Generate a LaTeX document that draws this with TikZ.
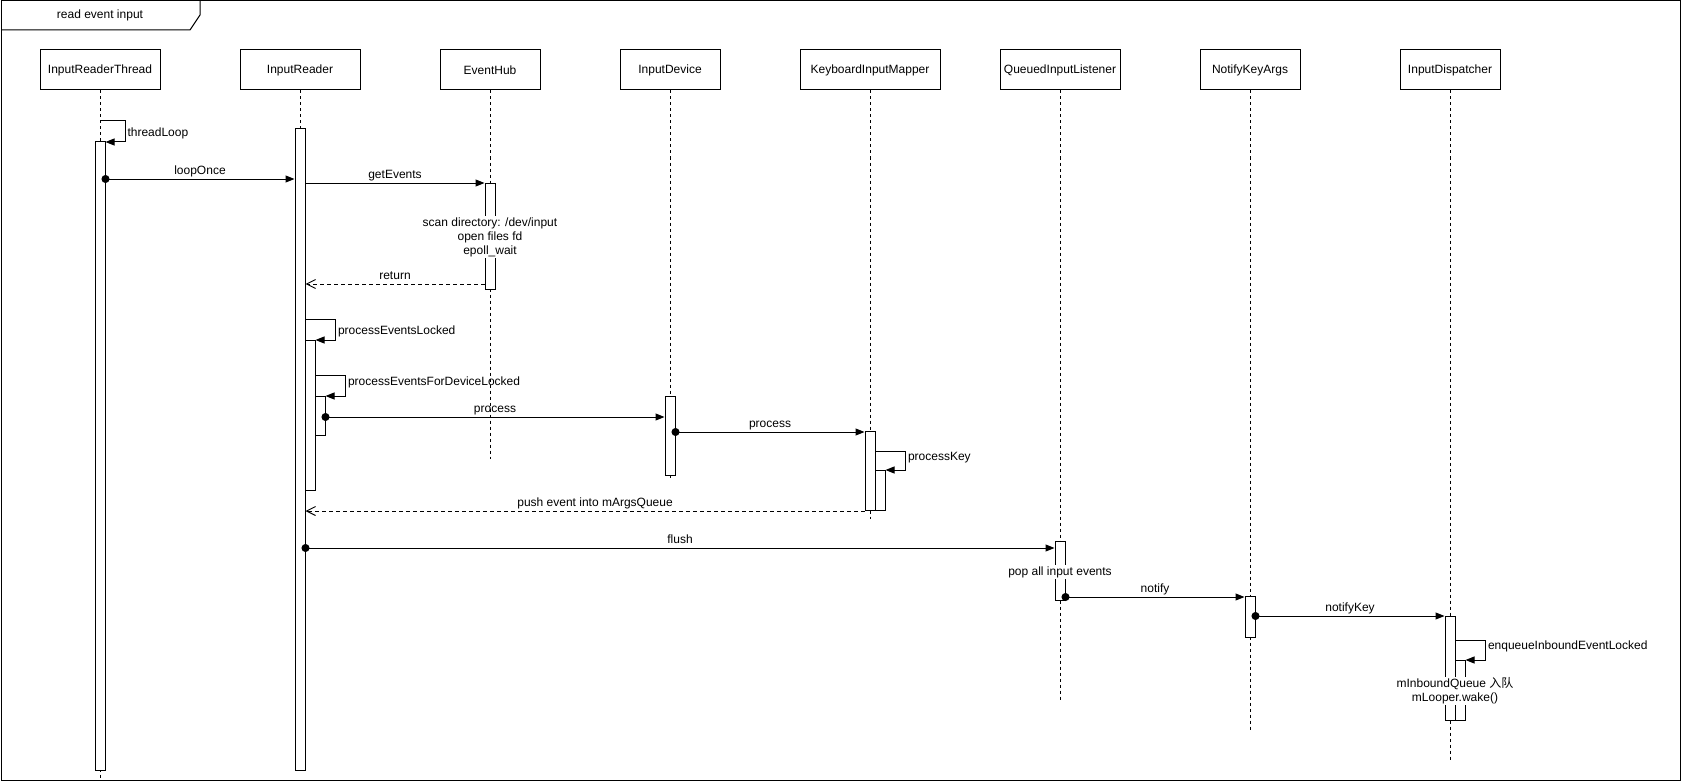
\documentclass[tikz,border=0pt]{standalone}
\usepackage{fontspec}
\setmainfont{Liberation Sans}
\newfontfamily\cjk{Noto Sans CJK SC}
\usetikzlibrary{arrows.meta, positioning}

\begin{document}
\begin{tikzpicture}[
    x=1pt, y=-1pt,
    every node/.style={font=\fontsize{12}{14}\selectfont},
    head/.style={draw, line width=1pt, minimum width=120pt, minimum height=40pt, inner sep=0pt},
    life/.style={line width=1pt, dash pattern=on 3pt off 3pt},
    act/.style={draw, fill=white, line width=1pt, minimum width=10pt, inner sep=0pt},
    call/.style={line width=1pt, -{Triangle[length=9pt, width=7pt]}},
    sync/.style={line width=1pt, {Circle[length=8pt]}-{Triangle[length=9pt, width=7pt]}, shorten <=-4pt},
    ret/.style={line width=1pt, dash pattern=on 4pt off 3pt, -{Straight Barb[length=9pt, width=9pt]}},
    lbl/.style={above, inner sep=1.5pt, text depth=2.5pt},
    selflbl/.style={right, pos=0.17, inner sep=2pt},
    note/.style={align=center, fill=white, inner sep=1pt},
]
\useasboundingbox (0,0) rectangle (1681,781);

% frame
\draw[line width=1pt] (1,1) rectangle (1680,780);
\draw[line width=1pt] (1,30) -- (190,30) -- (200,15) -- (200,1);
\node (title) at (100,15) {read event input};

% lifelines
\node[head] (tThread) at (100,70) {InputReaderThread};
\node[head] (tReader) at (300,70) {InputReader};
\node[head, minimum width=100pt] (tHub) at (490,70) {EventHub};
\node[head, minimum width=100pt] (tDevice) at (670,70) {InputDevice};
\node[head, minimum width=140pt] (tMapper) at (870,70) {KeyboardInputMapper};
\node[head] (tQueued) at (1060,70) {QueuedInputListener};
\node[head, minimum width=100pt] (tNotify) at (1250,70) {NotifyKeyArgs};
\node[head, minimum width=100pt] (tDisp) at (1450,70) {InputDispatcher};

\draw[life] (tThread.south) -- (tThread.south |- 0,778);
\draw[life] (tReader.south) -- (tReader.south |- 0,770);
\draw[life] (tHub.south) -- (tHub.south |- 0,459);
\draw[life] (tDevice.south) -- (tDevice.south |- 0,478);
\draw[life] (tMapper.south) -- (tMapper.south |- 0,519);
\draw[life] (tQueued.south) -- (tQueued.south |- 0,700);
\draw[life] (tNotify.south) -- (tNotify.south |- 0,730);
\draw[life] (tDisp.south) -- (tDisp.south |- 0,760);

% activations
\node[act, minimum height=628pt] (aThread) at (100,456) {};
\node[act, minimum height=641pt] (aReader) at (300,449.5) {};
\node[act, minimum height=106pt] (aHub) at (490,236) {};
\node[act, minimum height=150pt] (aReader2) at (310,415) {};
\node[act, minimum height=39pt] (aReader3) at (320,415.5) {};
\node[act, minimum height=79pt] (aDevice) at (670,435.5) {};
\node[act, minimum height=79pt] (aMapper) at (870,470.5) {};
\node[act, minimum height=40pt] (aMapper2) at (880,490) {};
\node[act, minimum height=59pt] (aQueued) at (1060,570.5) {};
\node[act, minimum height=41pt] (aNotify) at (1250,616.5) {};
\node[act, minimum height=104pt] (aDisp) at (1450,668) {};
\node[act, minimum height=60pt] (aDisp2) at (1460,690) {};

% messages
\draw[call] (tThread.south |- 0,121) -- ++(25,0) |- node[selflbl, pos=0.3] {threadLoop} (aThread.east |- 0,142);
\draw[sync] (aThread.east |- 0,179) -- node[lbl] {loopOnce} (aReader.west |- 0,179);
\draw[call] (aReader.east |- 0,183) -- node[lbl] {getEvents} (aHub.west |- 0,183);
\node[note] (nHub) at (490,237) {scan directory: /dev/input\\open files fd\\epoll\_wait};
\draw[ret] (aHub.west |- 0,284) -- node[lbl] {return} (aReader.east |- 0,284);

\draw[call] (aReader.east |- 0,319) -- ++(30,0) |- node[selflbl, pos=0.3] {processEventsLocked} (aReader2.east |- 0,340);
\draw[call] (aReader2.east |- 0,375) -- ++(30,0) |- node[selflbl] {processEventsForDeviceLocked} (aReader3.east |- 0,396);
\draw[sync] (aReader3.east |- 0,417) -- node[lbl] {process} (aDevice.west |- 0,417);
\draw[sync] (aDevice.east |- 0,432) -- node[lbl] {process} (aMapper.west |- 0,432);
\draw[call] (aMapper.east |- 0,451) -- ++(30,0) |- node[selflbl] {processKey} (aMapper2.east |- 0,470);
\draw[ret] (aMapper.west |- 0,511) -- node[lbl, pos=0.482] {push event into mArgsQueue} (aReader.east |- 0,511);

\draw[sync] (aReader.east |- 0,548) -- node[lbl] {flush} (aQueued.west |- 0,548);
\node[note] (nQueued) at (1060,572) {pop all input events};
\draw[sync] (aQueued.east |- 0,597) -- node[lbl] {notify} (aNotify.west |- 0,597);
\draw[sync] (aNotify.east |- 0,616) -- node[lbl] {notifyKey} (aDisp.west |- 0,616);
\draw[call] (aDisp.east |- 0,640) -- ++(30,0) |- node[selflbl] {enqueueInboundEventLocked} (aDisp2.east |- 0,660);
\node[note] (nDisp) at (1455,691) {mInboundQueue {\cjk 入队}\\mLooper.wake()};

\end{tikzpicture}
\end{document}
